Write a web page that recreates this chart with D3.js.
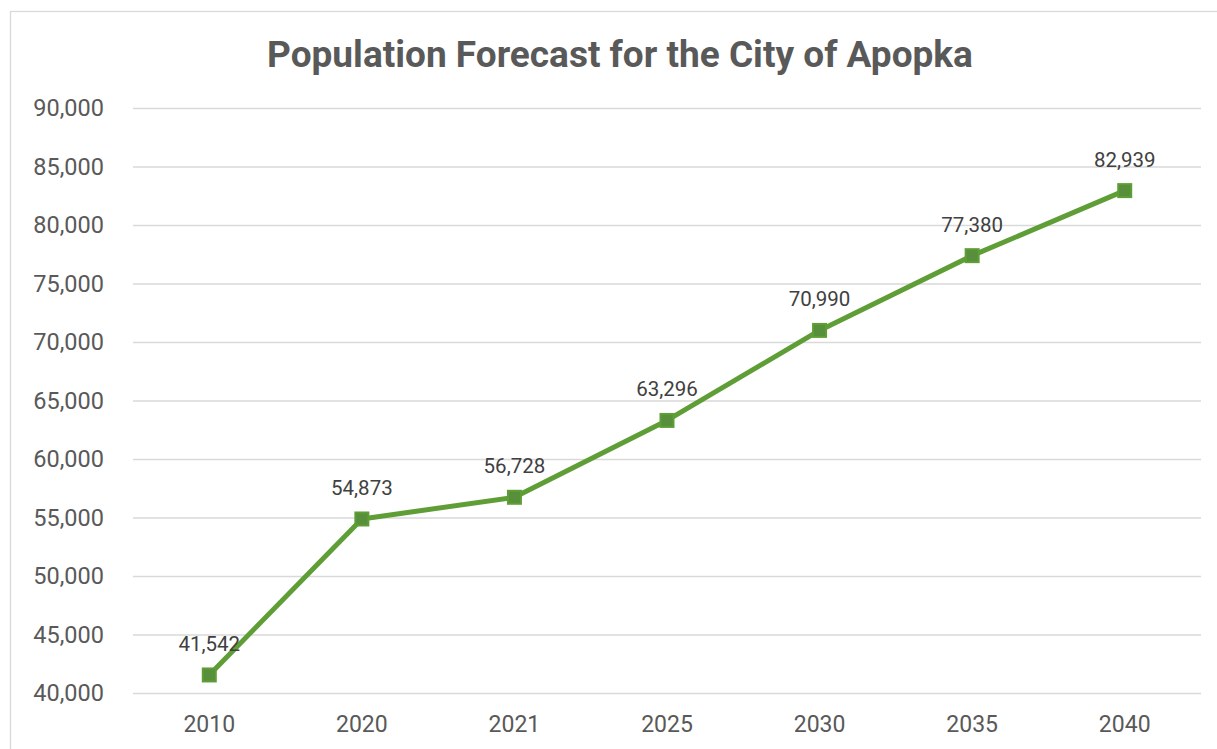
<!DOCTYPE html>
<html>
<head>
<meta charset="utf-8">
<script src="https://cdn.jsdelivr.net/npm/d3@7"></script>
<style>
  html, body { margin: 0; padding: 0; background: #fff; }
  svg { display: block; font-family: Roboto, "Noto Sans", sans-serif; }
</style>
</head>
<body>
<svg id="chart" width="1217" height="749"></svg>
<script>
const years = ["2010", "2020", "2021", "2025", "2030", "2035", "2040"];
const population = [41542, 54873, 56728, 63296, 70990, 77380, 82939];
const yTicks = [40000, 45000, 50000, 55000, 60000, 65000, 70000, 75000, 80000, 85000, 90000];
const chartTitle = "Population Forecast for the City of Apopka";

const svg = d3.select("#chart");
const plot = { left: 133, right: 1201, top: 108, bottom: 693 };

// chart frame
svg.append("rect")
  .attr("x", 10.5).attr("y", 11.5)
  .attr("width", 1240).attr("height", 760)
  .attr("fill", "#fff").attr("stroke", "#d9d9d9").attr("stroke-width", 1.3);

const x = d3.scaleBand().domain(years).range([plot.left, plot.right]);
const y = d3.scaleLinear().domain([40000, 90000]).range([plot.bottom, plot.top]);
const fmt = d3.format(",");

// title
svg.append("text")
  .attr("x", 620).attr("y", 67)
  .attr("text-anchor", "middle")
  .attr("font-size", 37).attr("font-weight", "bold")
  .attr("fill", "#595959")
  .text(chartTitle);

// horizontal gridlines + y labels
const yAxis = d3.axisLeft(y).tickValues(yTicks).tickFormat(fmt)
  .tickSize(-(plot.right - plot.left)).tickPadding(29);
const gy = svg.append("g").attr("transform", `translate(${plot.left},0)`).call(yAxis);
gy.select(".domain").remove();
gy.selectAll(".tick line").attr("stroke", "#d9d9d9").attr("stroke-width", 1.3);
gy.selectAll(".tick text").attr("font-size", 23.5).attr("fill", "#595959")
  .attr("font-family", "Roboto, sans-serif");

// x labels
const xAxis = d3.axisBottom(x).tickSize(0).tickPadding(23);
const gx = svg.append("g").attr("transform", `translate(0,${plot.bottom})`).call(xAxis);
gx.select(".domain").remove();
gx.selectAll(".tick text").attr("font-size", 23).attr("fill", "#595959")
  .attr("font-family", "Roboto, sans-serif");

const pts = years.map((yr, i) => ({ yr, v: population[i] }));
const cx = d => x(d.yr) + x.bandwidth() / 2;

// series line
svg.append("path")
  .datum(pts)
  .attr("fill", "none")
  .attr("stroke", "#5f9e36")
  .attr("stroke-width", 5)
  .attr("stroke-linejoin", "round")
  .attr("d", d3.line().x(cx).y(d => y(d.v)));

// square markers
const s = 13;
svg.selectAll(".mark").data(pts).enter().append("rect")
  .attr("class", "mark")
  .attr("x", d => cx(d) - s / 2).attr("y", d => y(d.v) - s / 2)
  .attr("width", s).attr("height", s)
  .attr("fill", "#578f3b").attr("stroke", "#5f9e36").attr("stroke-width", 2);

// value labels
svg.selectAll(".lbl").data(pts).enter().append("text")
  .attr("class", "lbl")
  .attr("x", cx).attr("y", d => y(d.v) - 24)
  .attr("text-anchor", "middle")
  .attr("font-size", 20.5).attr("fill", "#404040")
  .text(d => fmt(d.v));
</script>
</body>
</html>
